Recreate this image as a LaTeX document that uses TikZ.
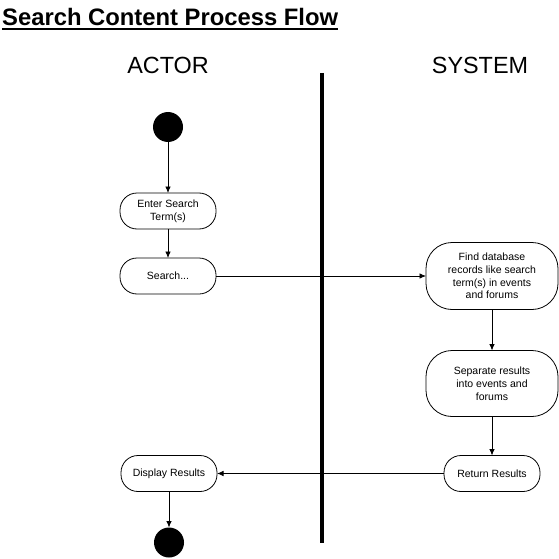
\documentclass[tikz,border=0pt]{standalone}
\usepackage{fontspec}
\setmainfont{Liberation Sans}
\usetikzlibrary{positioning,arrows.meta}

\newcommand{\ultitle}[1]{\setbox0\hbox{#1}\rlap{\rule[-3.6pt]{\wd0}{1.8pt}}\box0}

\begin{document}
\begin{tikzpicture}[
		x=1pt,y=-1pt,
		lanetitle/.style={font=\fontsize{23.4}{28}\selectfont,anchor=base,inner sep=0},
		dot/.style={circle,fill=black,minimum size=30pt,inner sep=0,outer sep=0},
		actbox/.style={draw,line width=0.8pt,rounded corners=17pt,minimum width=96pt,minimum height=36pt,
			inner sep=0,outer sep=0,align=center,font=\fontsize{10.5}{12.8}\selectfont},
		sysbox/.style={actbox,rounded corners=26pt,minimum width=132pt,minimum height=67pt},
		flow/.style={-{Latex[length=6.5pt,width=5.5pt]},line width=0.8pt}
		]
		\useasboundingbox (0,0) rectangle (559,559);
		\node[anchor=base west,inner sep=0,font=\fontsize{23.8}{28}\selectfont\bfseries] (title) at (2,26)
		{\ultitle{Search Content Process Flow}};
		\node[lanetitle] (actor) at (168,74) {ACTOR};
		\node[lanetitle] (system) at (480,74) {SYSTEM};
		\draw[line width=4pt] (321.5,73) -- (321.5,543);
		\node[dot] (start) at (168,127) {};
		\node[actbox,below=51pt of start] (enter) {Enter Search\\Term(s)};
		\node[actbox,below=29pt of enter] (search) {Search...};
		\node[sysbox,right=210pt of search] (find) {Find database\\records like search\\term(s) in events\\and forums};
		\node[sysbox,below=41pt of find,minimum height=66pt] (separate) {Separate results\\into events and\\forums};
		\node[actbox,below=39pt of separate] (results) {Return Results};
		\node[actbox,left=227pt of results] (display) {Display Results};
		\node[dot,below=36pt of display] (stop) {};
		\path
		(start) edge[flow] (enter)
		(enter) edge[flow] (search)
		(search) edge[flow] (find)
		(find) edge[flow] (separate)
		(separate) edge[flow] (results)
		(results) edge[flow] (display)
		(display) edge[flow] (stop);
	\end{tikzpicture}
\end{document}
